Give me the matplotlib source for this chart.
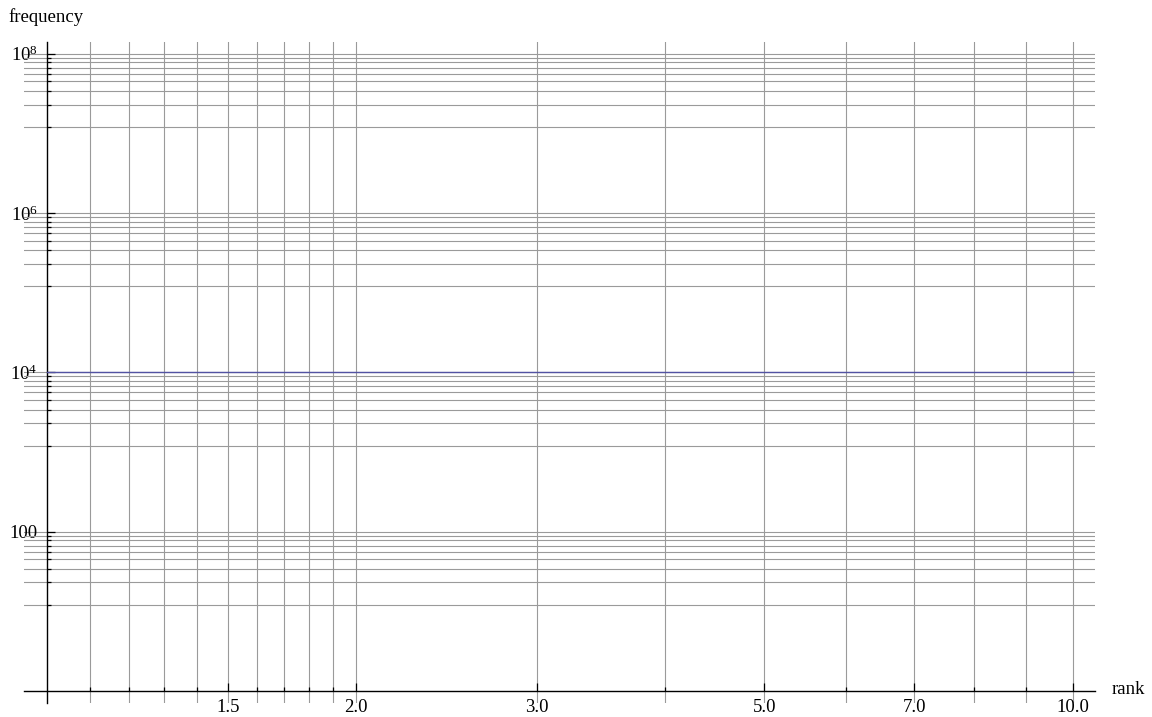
import numpy as np
import matplotlib
matplotlib.use("Agg")
import matplotlib.pyplot as plt
from matplotlib.ticker import FixedLocator, FixedFormatter, NullFormatter

# ───── data ─────
rank = [1, 2, 3, 4, 5, 6, 7, 8, 9, 10]
freq = [10000, 10000, 10000, 10000, 10000, 10000, 10000, 10000, 10000, 10000]

x_major = [1.5, 2.0, 3.0, 5.0, 7.0, 10.0]
x_major_lbl = ["1.5", "2.0", "3.0", "5.0", "7.0", "10.0"]
x_minor = [1.1, 1.2, 1.3, 1.4, 1.6, 1.7, 1.8, 1.9, 4.0, 6.0, 8.0, 9.0]

y_major = [1e2, 1e4, 1e6, 1e8]
y_major_lbl = ["100", r"$\mathregular{10^4}$", r"$\mathregular{10^6}$", r"$\mathregular{10^8}$"]
# minor ticks: linear steps between major ticks (Mathematica style)
y_minor = [12, 23, 34, 45, 56, 67, 78, 89,
           1200, 2300, 3400, 4500, 5600, 6700, 7800, 8900,
           1.2e5, 2.3e5, 3.4e5, 4.5e5, 5.6e5, 6.7e5, 7.8e5, 8.9e5,
           1.2e7, 2.3e7, 3.4e7, 4.5e7, 5.6e7, 6.7e7, 7.8e7, 8.9e7]

plt.rcParams["font.family"] = ["Liberation Serif", "DejaVu Serif"]
plt.rcParams["font.size"] = 13.5

W, H = 1152, 717
fig = plt.figure(figsize=(W / 100, H / 100), dpi=100)
# plot region in pixels: x 24..1095, y 42..703
ax = fig.add_axes([24 / W, (H - 703) / H, (1095 - 24) / W, (703 - 42) / H])
ax.set_xscale("log")
ax.set_yscale("log")
ax.set_xlim(10 ** -0.0228, 10 ** 1.0213)
ax.set_ylim(10 ** -0.151, 10 ** 8.147)

# axes cross at (1, 1)
for s in ("top", "right"):
    ax.spines[s].set_visible(False)
ax.spines["left"].set_position(("data", 1))
ax.spines["bottom"].set_position(("data", 1))
for s in ("left", "bottom"):
    ax.spines[s].set_linewidth(1.0)
    ax.spines[s].set_color("black")

ax.xaxis.set_major_locator(FixedLocator(x_major))
ax.xaxis.set_major_formatter(FixedFormatter(x_major_lbl))
ax.xaxis.set_minor_locator(FixedLocator(x_minor))
ax.xaxis.set_minor_formatter(NullFormatter())
ax.yaxis.set_major_locator(FixedLocator(y_major))
ax.yaxis.set_major_formatter(FixedFormatter(y_major_lbl))
ax.yaxis.set_minor_locator(FixedLocator(y_minor))
ax.yaxis.set_minor_formatter(NullFormatter())

ax.tick_params(which="major", direction="in", length=6, width=0.9)
ax.tick_params(which="minor", direction="in", length=3, width=0.9)
ax.tick_params(axis="x", which="major", pad=5.5)
ax.tick_params(axis="y", which="major", pad=7)

ax.grid(True, which="both", color="#9a9a9a", lw=0.8)
ax.set_axisbelow(True)

ax.plot(rank, freq, color="#5353a3", lw=1.0, zorder=3)

fig.text(8 / W, 1 - 17 / H, "frequency", ha="left", va="center")
fig.text(1112 / W, 1 - 689 / H, "rank", ha="left", va="center")

fig.savefig("out.png", dpi=100)
